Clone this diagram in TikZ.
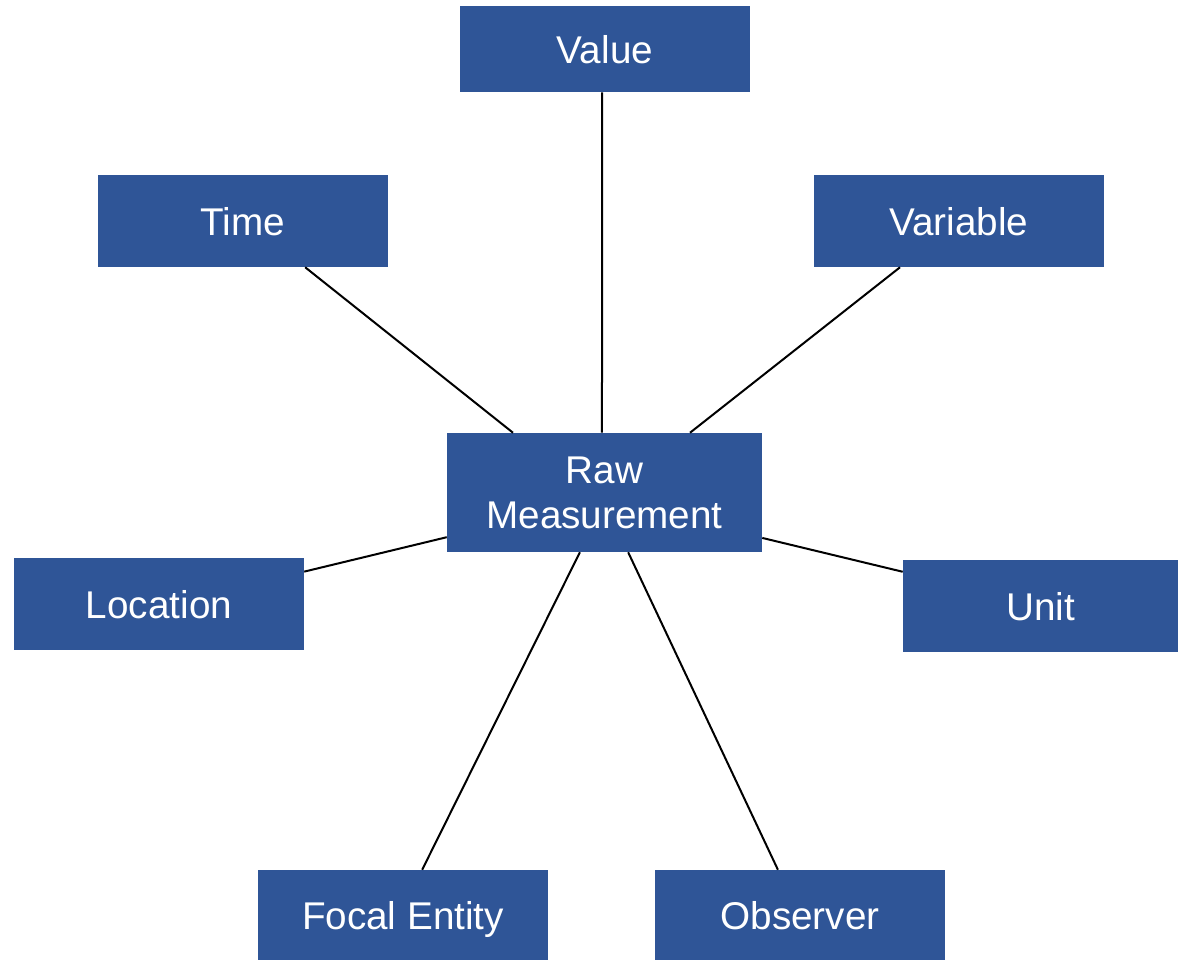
\documentclass[tikz,border=0pt]{standalone}
\usepackage{fontspec}
\setmainfont{Liberation Sans}
\usetikzlibrary{calc}
\definecolor{boxblue}{HTML}{2F5597}
\begin{document}
\begin{tikzpicture}[x=0.75pt,y=-0.75pt,
  entity/.style={draw=none,fill=boxblue,text=white,inner sep=0pt,
    minimum width=217.5pt,minimum height=69pt,align=center,
    font=\fontsize{29}{33.75}\selectfont},
  oneline/.style={entity,text height=23pt,text depth=2pt},
  link/.style={draw=black,line width=1.5pt}]
\useasboundingbox (0,0) rectangle (1179,961);

% central concept
\node[entity,minimum width=236.25pt,minimum height=89.25pt] (raw) at (604.5,492.5) {Raw\\Measurement};

% surrounding properties
\node[oneline,minimum height=64.5pt] (value) at (605,49) {Value};
\node[oneline] (time) at (243,221) {Time};
\node[oneline] (variable) at (959,221) {Variable};
\node[oneline] (location) at (159,604) {Location};
\node[oneline,minimum width=206.25pt] (unit) at (1040.5,606) {Unit};
\node[oneline,minimum height=67.5pt] (focal) at (403,915) {Focal Entity};
\node[oneline,minimum height=67.5pt] (observer) at (800,915) {Observer};

% connectors
\draw[link] ($(value.south west)!0.49!(value.south east)$) -- ($(raw.north west)!0.492!(raw.north east)$);
\draw[link] ($(time.south west)!0.714!(time.south east)$) -- ($(raw.north west)!0.21!(raw.north east)$);
\draw[link] ($(variable.south west)!0.297!(variable.south east)$) -- ($(raw.north west)!0.771!(raw.north east)$);
\draw[link] ($(location.north east)!0.15!(location.south east)$) -- ($(raw.north west)!0.874!(raw.south west)$);
\draw[link] ($(unit.north west)!0.13!(unit.south west)$) -- ($(raw.north east)!0.88!(raw.south east)$);
\draw[link] ($(focal.north west)!0.566!(focal.north east)$) -- ($(raw.south west)!0.422!(raw.south east)$);
\draw[link] ($(observer.north west)!0.424!(observer.north east)$) -- ($(raw.south west)!0.575!(raw.south east)$);
\end{tikzpicture}
\end{document}
